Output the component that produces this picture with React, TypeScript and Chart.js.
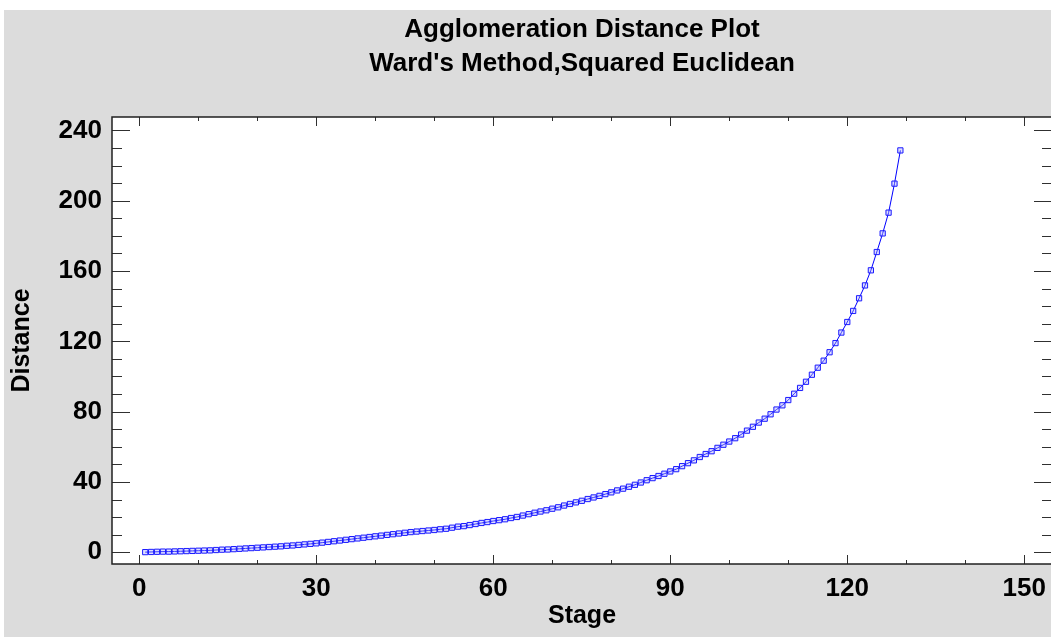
import React, { useEffect, useRef } from "react";
import { Chart, registerables } from "chart.js";

Chart.register(...registerables);

const titleLines = ["Agglomeration Distance Plot", "Ward's Method,Squared Euclidean"];
const xAxisTitle = "Stage";
const yAxisTitle = "Distance";

const stages = [
  1, 2, 3, 4, 5, 6, 7, 8, 9, 10, 11, 12, 13, 14, 15, 16, 17, 18, 19, 20,
  21, 22, 23, 24, 25, 26, 27, 28, 29, 30, 31, 32, 33, 34, 35, 36, 37, 38, 39, 40,
  41, 42, 43, 44, 45, 46, 47, 48, 49, 50, 51, 52, 53, 54, 55, 56, 57, 58, 59, 60,
  61, 62, 63, 64, 65, 66, 67, 68, 69, 70, 71, 72, 73, 74, 75, 76, 77, 78, 79, 80,
  81, 82, 83, 84, 85, 86, 87, 88, 89, 90, 91, 92, 93, 94, 95, 96, 97, 98, 99, 100,
  101, 102, 103, 104, 105, 106, 107, 108, 109, 110, 111, 112, 113, 114, 115, 116, 117, 118, 119, 120,
  121, 122, 123, 124, 125, 126, 127, 128, 129,
];

const distances = [
  0.1, 0.2, 0.3, 0.4, 0.4, 0.5, 0.6, 0.7, 0.8, 0.9,
  1.0, 1.1, 1.3, 1.5, 1.6, 1.8, 2.0, 2.2, 2.4, 2.6,
  2.8, 3.0, 3.2, 3.4, 3.7, 3.9, 4.2, 4.5, 4.8, 5.1,
  5.5, 5.9, 6.3, 6.7, 7.1, 7.5, 7.9, 8.3, 8.7, 9.1,
  9.5, 9.9, 10.3, 10.7, 11.1, 11.5, 11.8, 12.1, 12.4, 12.7,
  13.1, 13.4, 14.0, 14.6, 14.9, 15.5, 16.1, 16.7, 17.2, 17.8,
  18.3, 18.8, 19.5, 20.1, 20.9, 21.7, 22.5, 23.2, 23.9, 24.8,
  25.6, 26.6, 27.5, 28.4, 29.3, 30.3, 31.2, 32.1, 33.1, 34.1,
  35.2, 36.2, 37.3, 38.4, 39.7, 41.0, 42.2, 43.4, 44.7, 46.0,
  47.3, 49.0, 50.7, 52.3, 54.2, 55.9, 57.5, 59.4, 61.2, 63.0,
  64.9, 67.0, 69.2, 71.4, 73.8, 76.0, 78.5, 81.2, 83.6, 86.6,
  90.2, 93.5, 97.0, 101.0, 105.0, 109.0, 113.8, 119.0, 125.0, 131.0,
  137.3, 144.5, 151.8, 160.4, 170.8, 181.4, 193.2, 209.7, 228.6,
];

const xMajorTicks = [0, 30, 60, 90, 120, 150];
const xMinorTicks = [10, 20, 40, 50, 70, 80, 100, 110, 130, 140];
const yMajorTicks = [0, 40, 80, 120, 160, 200, 240];
const yMinorTicks = [
  10, 20, 30, 50, 60, 70, 90, 100, 110, 130, 140, 150, 170, 180, 190, 210, 220, 230,
];

const FONT = "'Liberation Sans', Arial, sans-serif";

const framePlugin = {
  id: "frame",
  beforeDraw(chart: any) {
    const { ctx, chartArea } = chart;
    ctx.save();
    ctx.fillStyle = "#ffffff";
    ctx.fillRect(chartArea.left, chartArea.top, chartArea.right - chartArea.left, chartArea.bottom - chartArea.top);
    ctx.restore();
  },
  afterDraw(chart: any) {
    const { ctx, chartArea } = chart;
    const xs = chart.scales.x;
    const ys = chart.scales.y;
    const { left, right, top, bottom } = chartArea;
    ctx.save();
    ctx.strokeStyle = "#303030";
    ctx.lineWidth = 1;
    ctx.beginPath();
    const tick = (x1: number, y1: number, x2: number, y2: number) => {
      ctx.moveTo(x1, y1);
      ctx.lineTo(x2, y2);
    };
    xMajorTicks.forEach((v) => {
      const p = Math.round(xs.getPixelForValue(v)) + 0.5;
      tick(p, bottom, p, bottom - 9);
      tick(p, top, p, top + 9);
    });
    xMinorTicks.forEach((v) => {
      const p = Math.round(xs.getPixelForValue(v)) + 0.5;
      tick(p, bottom, p, bottom - 4);
      tick(p, top, p, top + 4);
    });
    yMajorTicks.forEach((v) => {
      const p = Math.round(ys.getPixelForValue(v)) + 0.5;
      tick(left, p, left + 18, p);
      tick(right, p, right - 18, p);
    });
    yMinorTicks.forEach((v) => {
      const p = Math.round(ys.getPixelForValue(v)) + 0.5;
      tick(left, p, left + 10, p);
      tick(right, p, right - 10, p);
    });
    ctx.stroke();
    ctx.lineWidth = 1.5;
    ctx.strokeStyle = "#202020";
    ctx.strokeRect(left, top, right - left, bottom - top);
    // titles
    ctx.fillStyle = "#000000";
    ctx.font = `bold 26px ${FONT}`;
    ctx.textAlign = "center";
    ctx.textBaseline = "alphabetic";
    const cx = (left + right) / 2;
    ctx.fillText(titleLines[0], cx, 26.5);
    ctx.fillText(titleLines[1], cx, 61);
    ctx.restore();
  },
};

export default function App() {
  const ref = useRef<HTMLCanvasElement | null>(null);
  useEffect(() => {
    document.body.style.margin = "0";
    const canvas = ref.current;
    if (!canvas) return;
    const chart = new Chart(canvas, {
      type: "line",
      data: {
        datasets: [
          {
            data: stages.map((s, i) => ({ x: s, y: distances[i] })),
            borderColor: "#0000ff",
            borderWidth: 1,
            backgroundColor: "rgba(0,0,0,0)",
            pointStyle: "rect",
            pointRadius: 3.7,
            pointBorderWidth: 1,
            pointBorderColor: "#1a1aff",
            pointBackgroundColor: "rgba(160,160,255,0.35)",
            tension: 0,
            fill: false,
          },
        ],
      },
      options: {
        animation: false,
        responsive: false,
        devicePixelRatio: 1,
        layout: { padding: { top: 107, right: 12, left: 0, bottom: 0 } },
        plugins: { legend: { display: false }, tooltip: { enabled: false }, title: { display: false } },
        scales: {
          x: {
            type: "linear",
            min: -4.63,
            max: 154.7,
            grid: { display: false, drawTicks: false },
            border: { display: false },
            afterBuildTicks: (scale: any) => {
              scale.ticks = xMajorTicks.map((v) => ({ value: v }));
            },
            afterFit: (scale: any) => {
              scale.height = 73;
            },
            ticks: {
              padding: 9,
              maxRotation: 0,
              autoSkip: false,
              color: "#000",
              font: { family: FONT, size: 26, weight: "bold" },
            },
            title: {
              display: true,
              text: xAxisTitle,
              color: "#000",
              font: { family: FONT, size: 25, weight: "bold" },
              padding: { top: 0, bottom: 6 },
            },
          },
          y: {
            type: "linear",
            min: -6.65,
            max: 247.6,
            grid: { display: false, drawTicks: false },
            border: { display: false },
            afterBuildTicks: (scale: any) => {
              scale.ticks = yMajorTicks.map((v) => ({ value: v }));
            },
            afterFit: (scale: any) => {
              scale.width = 108;
            },
            ticks: {
              padding: 10,
              autoSkip: false,
              color: "#000",
              font: { family: FONT, size: 26, weight: "bold" },
            },
            title: {
              display: true,
              text: yAxisTitle,
              color: "#000",
              font: { family: FONT, size: 25, weight: "bold" },
              padding: { top: 3, bottom: 0 },
            },
          },
        },
      },
      plugins: [framePlugin],
    });
    return () => chart.destroy();
  }, []);

  return (
    <div style={{ position: "absolute", left: 0, top: 0, width: 1051, height: 637, overflow: "hidden", background: "#ffffff" }}>
      <canvas
        ref={ref}
        width={1060}
        height={627}
        style={{ position: "absolute", left: 4, top: 10, width: 1060, height: 627, background: "#dcdcdc" }}
      />
    </div>
  );
}
